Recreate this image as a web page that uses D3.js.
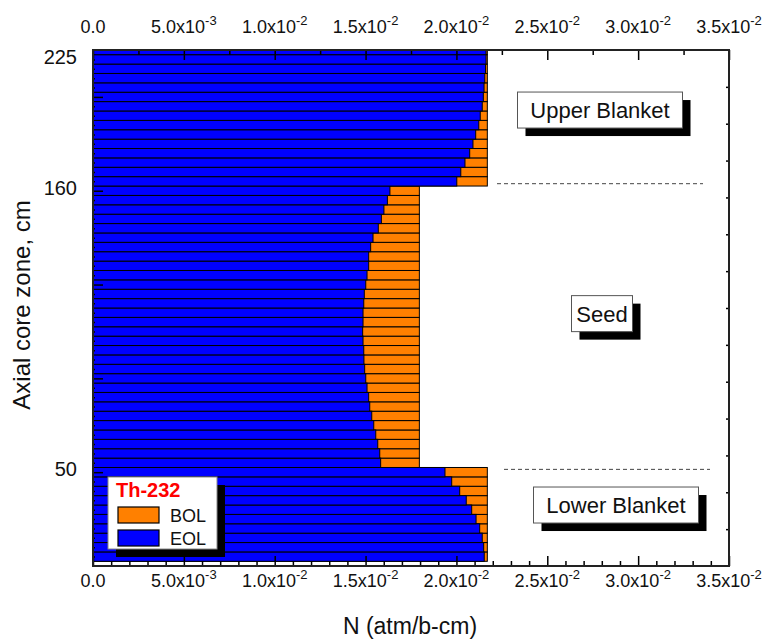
<!DOCTYPE html>
<html>
<head>
<meta charset="utf-8">
<script src="https://cdn.jsdelivr.net/npm/d3@7.9.0/dist/d3.min.js"></script>
<style>
  body { margin: 0; background: #fff; }
  svg { font-family: Arial, "Liberation Sans", sans-serif; }
</style>
</head>
<body>
<svg id="chart" width="766" height="639"></svg>
<script>
// --- data: axial zones numbered from the bottom (1) to the top (55) ---
const zones = d3.range(1, 56);

// Th-232 number density at end of life (atm/b-cm), bottom -> top
const eolValues = [
  0.02153, 0.02150, 0.02142, 0.02128, 0.02108, 0.02084, 0.02054, 0.02018, 0.01974, 0.01937,
  0.01583, 0.01578, 0.01567, 0.01556, 0.01545, 0.01534, 0.01523, 0.01517, 0.01508, 0.01501,
  0.01495, 0.01491, 0.01490, 0.01486, 0.01484, 0.01486, 0.01486, 0.01490, 0.01493, 0.01501,
  0.01508, 0.01517, 0.01517, 0.01528, 0.01541, 0.01570, 0.01587, 0.01601, 0.01620, 0.01634,
  0.02002, 0.02024, 0.02047, 0.02073, 0.02091, 0.02106, 0.02123, 0.02131, 0.02142, 0.02148,
  0.02152, 0.02156, 0.02160, 0.02163, 0.02163
];

// beginning of life, bottom -> top
const bolValues = [
  0.0217, 0.0217, 0.0217, 0.0217, 0.0217, 0.0217, 0.0217, 0.0217, 0.0217, 0.0217,
  0.01796, 0.01796, 0.01796, 0.01796, 0.01796, 0.01796, 0.01796, 0.01796, 0.01796, 0.01796,
  0.01796, 0.01796, 0.01796, 0.01796, 0.01796, 0.01796, 0.01796, 0.01796, 0.01796, 0.01796,
  0.01796, 0.01796, 0.01796, 0.01796, 0.01796, 0.01796, 0.01796, 0.01796, 0.01796, 0.01796,
  0.0217, 0.0217, 0.0217, 0.0217, 0.0217, 0.0217, 0.0217, 0.0217, 0.0217, 0.0217,
  0.0217, 0.0217, 0.0217, 0.0217, 0.0217
];

// y tick labels (zone index -> height in cm)
const yTickZones = [10, 40, 55];
const yTickLabels = ['50', '160', '225'];

const xTicks = [0, 0.005, 0.01, 0.015, 0.02, 0.025, 0.03, 0.035];

// region annotations: label, zone centre, boundary line zone
const regionLabels = ['Upper Blanket', 'Seed', 'Lower Blanket'];
const regionZones = [48.6, 26.9, 6.5];
const boundaryZones = [40.75, 10.3];

const colors = { bol: '#ff8000', eol: '#0000ff' };

// --- layout ---
const svg = d3.select('#chart');
const plotLeft = 93, plotRight = 729, plotTop = 50, plotBottom = 566;

const x = d3.scaleLinear().domain([0, 0.035]).range([plotLeft, plotRight]);
const y = d3.scaleLinear().domain([0, 55]).range([plotBottom, plotTop]);
const yRight = d3.scaleLinear().domain([0, 14]).range([plotBottom, plotTop]);

svg.append('clipPath').attr('id', 'plot-clip')
  .append('rect')
  .attr('x', plotLeft).attr('y', plotTop)
  .attr('width', plotRight - plotLeft).attr('height', plotBottom - plotTop);

const bars = svg.append('g').attr('clip-path', 'url(#plot-clip)');

// orange BOL bars first, blue EOL bars on top
bars.selectAll('rect.bol')
  .data(zones)
  .join('rect')
  .attr('class', 'bol')
  .attr('x', x(0))
  .attr('y', (d) => y(d + 0.5))
  .attr('width', (d, i) => x(bolValues[i]) - x(0))
  .attr('height', (d) => y(d - 0.5) - y(d + 0.5))
  .attr('fill', colors.bol)
  .attr('stroke', '#000')
  .attr('stroke-width', 1);

bars.selectAll('rect.eol')
  .data(zones)
  .join('rect')
  .attr('class', 'eol')
  .attr('x', x(0))
  .attr('y', (d) => y(d + 0.5))
  .attr('width', (d, i) => x(eolValues[i]) - x(0))
  .attr('height', (d) => y(d - 0.5) - y(d + 0.5))
  .attr('fill', colors.eol)
  .attr('stroke', '#000')
  .attr('stroke-width', 1);

// --- axes (ticks pointing inward) ---
function sciLabel(sel, v) {
  if (v === 0) {
    sel.text('0.0');
    return;
  }
  let exp = Math.floor(Math.log10(v) + 1e-9);
  let mant = v / Math.pow(10, exp);
  sel.append('tspan').text(mant.toFixed(1) + 'x10');
  sel.append('tspan').attr('dy', -8).attr('font-size', 13).text(exp);
}

const topAxis = svg.append('g').attr('transform', `translate(0,${plotTop})`)
  .call(d3.axisBottom(x).tickValues(d3.range(0, 0.03501, 0.0025)).tickSize(5).tickFormat(''));
topAxis.selectAll('.tick line')
  .attr('y2', (d, i) => (i % 2 === 0 ? 10 : 5));

const bottomAxis = svg.append('g').attr('transform', `translate(0,${plotBottom})`)
  .call(d3.axisTop(x).tickValues(d3.range(0, 0.03501, 0.001)).tickSize(5).tickFormat(''));
bottomAxis.selectAll('.tick line')
  .attr('y2', (d, i) => (i % 5 === 0 ? -10 : -5));

const leftAxis = svg.append('g').attr('transform', `translate(${plotLeft},0)`)
  .call(d3.axisRight(y).tickValues(d3.range(1, 55)).tickSize(3).tickFormat(''));
leftAxis.selectAll('.tick line')
  .attr('x2', (d) => (d % 10 === 0 ? 10 : 2));

const rightAxis = svg.append('g').attr('transform', `translate(${plotRight},0)`)
  .call(d3.axisLeft(yRight).tickValues(d3.range(1, 14)).tickSize(3).tickFormat(''));

[topAxis, bottomAxis, leftAxis, rightAxis].forEach((ax) => {
  ax.select('.domain').remove();
  ax.selectAll('.tick line').attr('stroke', '#000').attr('stroke-width', 1.5);
});

// frame
svg.append('rect')
  .attr('x', plotLeft).attr('y', plotTop)
  .attr('width', plotRight - plotLeft).attr('height', plotBottom - plotTop)
  .attr('fill', 'none').attr('stroke', '#222').attr('stroke-width', 2);

// x tick labels, top and bottom
[27, 581].forEach((ly) => {
  svg.append('g').selectAll('text')
    .data(xTicks)
    .join('text')
    .attr('x', (d) => x(d))
    .attr('y', ly + 6)
    .attr('text-anchor', 'middle')
    .attr('font-size', 18)
    .attr('fill', '#111')
    .each(function (d) { sciLabel(d3.select(this), d); });
});

// y tick labels
svg.append('g').selectAll('text')
  .data(yTickZones)
  .join('text')
  .attr('x', 77)
  .attr('y', (d, i) => y(d) + (i === 2 ? 14 : 4))
  .attr('text-anchor', 'end')
  .attr('font-size', 20)
  .attr('fill', '#111')
  .text((d, i) => yTickLabels[i]);

// axis titles
svg.append('text')
  .attr('x', 410).attr('y', 634)
  .attr('text-anchor', 'middle')
  .attr('font-size', 23)
  .attr('fill', '#111')
  .text('N (atm/b-cm)');

svg.append('text')
  .attr('transform', `translate(30,305) rotate(-90)`)
  .attr('text-anchor', 'middle')
  .attr('font-size', 24)
  .attr('fill', '#111')
  .text('Axial core zone, cm');

// boundary dashed lines
const dashStarts = [497, 504];
svg.append('g').selectAll('line')
  .data(boundaryZones)
  .join('line')
  .attr('x1', (d, i) => dashStarts[i])
  .attr('x2', (d, i) => dashStarts[i] + 206)
  .attr('y1', (d) => y(d))
  .attr('y2', (d) => y(d))
  .attr('stroke', '#444')
  .attr('stroke-width', 1)
  .attr('stroke-dasharray', '4,3');

// annotation boxes with drop shadow
const boxCenters = [600, 602, 616];
const boxWidths = [165, 61, 165];
regionLabels.forEach((label, i) => {
  const cx = boxCenters[i], cy = y(regionZones[i]);
  const w = boxWidths[i], h = 36;
  const g = svg.append('g');
  g.append('rect')
    .attr('x', cx - w / 2 + 8).attr('y', cy - h / 2 + 8)
    .attr('width', w).attr('height', h)
    .attr('fill', '#000');
  g.append('rect')
    .attr('x', cx - w / 2).attr('y', cy - h / 2)
    .attr('width', w).attr('height', h)
    .attr('fill', '#fff').attr('stroke', '#555').attr('stroke-width', 1);
  g.append('text')
    .attr('x', cx).attr('y', cy + 8)
    .attr('text-anchor', 'middle')
    .attr('font-size', 22)
    .attr('fill', '#111')
    .text(label);
});

// legend
const legend = svg.append('g');
legend.append('rect')
  .attr('x', 116).attr('y', 485).attr('width', 109).attr('height', 72)
  .attr('fill', '#000');
legend.append('rect')
  .attr('x', 108).attr('y', 477).attr('width', 109).attr('height', 72)
  .attr('fill', '#fff').attr('stroke', '#888').attr('stroke-width', 1);
legend.append('text')
  .attr('x', 116).attr('y', 497)
  .attr('font-size', 20).attr('font-weight', 'bold')
  .attr('fill', '#ff0000')
  .text('Th-232');

const legendItems = [['BOL', colors.bol], ['EOL', colors.eol]];
legend.selectAll('g.item')
  .data(legendItems)
  .join('g')
  .attr('class', 'item')
  .each(function ([name, color], i) {
    const g = d3.select(this);
    g.append('rect')
      .attr('x', 118).attr('y', 507 + i * 23)
      .attr('width', 41).attr('height', 16)
      .attr('fill', color).attr('stroke', '#000').attr('stroke-width', 1.2);
    g.append('text')
      .attr('x', 170).attr('y', 522 + i * 23)
      .attr('font-size', 18)
      .attr('fill', '#111')
      .text(name);
  });
</script>
</body>
</html>
